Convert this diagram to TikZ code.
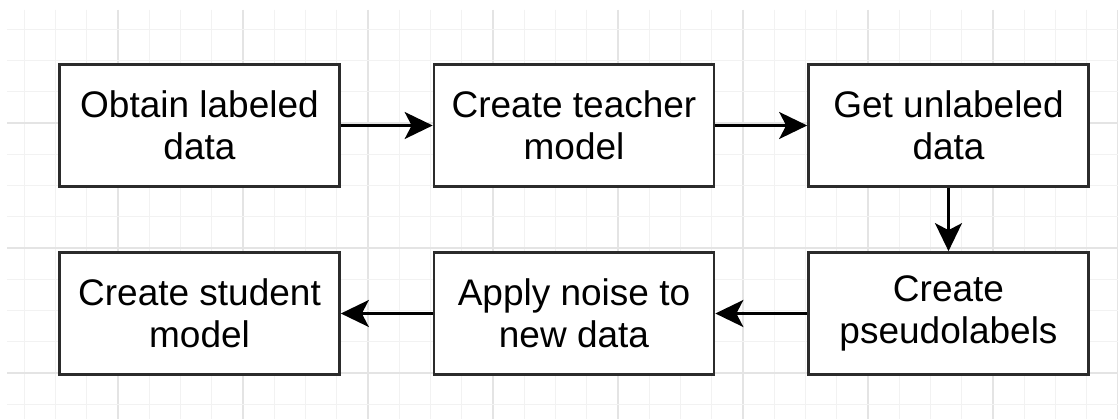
\documentclass[tikz,border=0pt]{standalone}
\usepackage{fontspec}
\setmainfont{Liberation Sans}
\usetikzlibrary{arrows.meta}
\definecolor{minorgrid}{HTML}{F2F2F2}
\definecolor{majorgrid}{HTML}{E4E4E4}
\definecolor{boxline}{HTML}{2B2B2B}
\tikzset{
  stepbox/.style={draw=boxline, line width=2.7pt, fill=white, minimum width=280pt, minimum height=122pt, inner sep=0pt, align=center, font=\fontsize{37}{42}\selectfont},
  flow/.style={draw=black, line width=2.2pt, -{Stealth[length=28pt, width=27pt, inset=7pt]}},
}
\begin{document}
\begin{tikzpicture}[x=1pt, y=-1pt]
\useasboundingbox (0,0) rectangle (1118,419);
\fill[white] (0,0) rectangle (1118,419);
% grid
\foreach \i in {0,...,35} {
  \pgfmathsetmacro{\gx}{24.25+31.25*\i}
  \pgfmathtruncatemacro{\m}{mod(\i,4)}
  \ifnum\m=3
    \draw[majorgrid, line width=1.2pt] (\gx,10) -- (\gx,419);
  \else
    \draw[minorgrid, line width=1.2pt] (\gx,10) -- (\gx,419);
  \fi
}
\foreach \j in {0,...,12} {
  \pgfmathsetmacro{\gy}{29.25+31.25*\j}
  \pgfmathtruncatemacro{\m}{mod(\j,4)}
  \ifnum\m=3
    \draw[majorgrid, line width=1.2pt] (7,\gy) -- (1118,\gy);
  \else
    \draw[minorgrid, line width=1.2pt] (7,\gy) -- (1118,\gy);
  \fi
}
% boxes
\node[stepbox] (a) at (199.5,125.5) {Obtain labeled\\data};
\node[stepbox] (b) at (574,125.5) {Create teacher\\model};
\node[stepbox] (c) at (948.5,125.5) {Get unlabeled\\data};
\node[stepbox] (d) at (948.5,313.5) {Create\\pseudolabels};
\node[stepbox] (e) at (574,313.5) {Apply noise to\\new data};
\node[stepbox] (f) at (199.5,313.5) {Create student\\model};
% connectors
\draw[flow] (a.east) -- (b.west);
\draw[flow] (b.east) -- (c.west);
\draw[flow] (c.south) -- (d.north);
\draw[flow] (d.west) -- (e.east);
\draw[flow] (e.west) -- (f.east);
\end{tikzpicture}
\end{document}
